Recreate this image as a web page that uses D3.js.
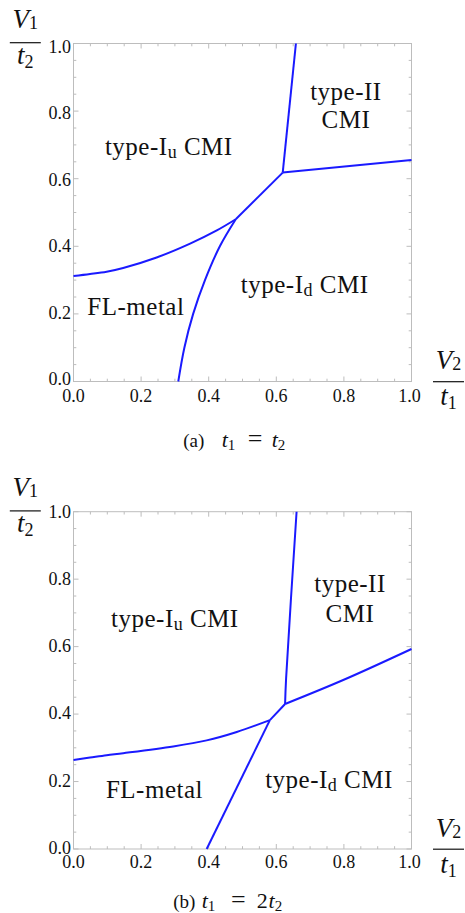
<!DOCTYPE html>
<html><head><meta charset="utf-8">
<script src="https://cdn.jsdelivr.net/npm/d3@7/dist/d3.min.js"></script>
<style>body{margin:0;background:#fff}svg{display:block;font-family:"Liberation Serif","Times New Roman",serif}</style>
</head><body>
<script>
// ---------- data ----------
const majorTicks = [0, 0.2, 0.4, 0.6, 0.8, 1.0];
const tickLabels = ["0.0", "0.2", "0.4", "0.6", "0.8", "1.0"];
const minorTicks = [0.05, 0.1, 0.15, 0.25, 0.3, 0.35, 0.45, 0.5, 0.55, 0.65, 0.7, 0.75, 0.85, 0.9, 0.95];

// panel (a): t1 = t2 — phase boundaries (x = V2/t1, y = V1/t2)
const aFLIu_x = [0, 0.049, 0.098, 0.147, 0.246, 0.345, 0.424, 0.48];
const aFLIu_y = [0.312, 0.318, 0.325, 0.336, 0.367, 0.408, 0.447, 0.48];
const aFLId_x = [0.31, 0.328, 0.354, 0.389, 0.433, 0.48];
const aFLId_y = [0, 0.1, 0.2, 0.3, 0.4, 0.48];
const aIdIu_x = [0.48, 0.619];
const aIdIu_y = [0.48, 0.618];
const aIuII_x = [0.619, 0.658];
const aIuII_y = [0.618, 1.0];
const aIdII_x = [0.619, 1.0];
const aIdII_y = [0.618, 0.655];

// panel (b): t1 = 2 t2
const bFLIu_x = [0, 0.049, 0.098, 0.147, 0.295, 0.394, 0.483, 0.581];
const bFLIu_y = [0.264, 0.271, 0.278, 0.284, 0.304, 0.322, 0.347, 0.382];
const bFLId_x = [0.394, 0.581];
const bFLId_y = [0, 0.382];
const bIdIu_x = [0.581, 0.626];
const bIdIu_y = [0.382, 0.43];
const bIuII_x = [0.626, 0.629, 0.66];
const bIuII_y = [0.43, 0.506, 1.0];
const bIdII_x = [0.626, 0.798, 1.0];
const bIdII_y = [0.43, 0.501, 0.593];

// region names and captions
const regionIu = ["type-I", "u", " CMI"];
const regionId = ["type-I", "d", " CMI"];
const regionII = ["type-II", "CMI"];
const regionFL = "FL-metal";
const captionA = ["(a)", "t", "1", "=", "t", "2"];
const captionB = ["(b)", "t", "1", "=", "2", "t", "2"];

// ---------- drawing ----------
const SERIF = '"Liberation Serif", "Times New Roman", serif';
const W = 465, H = 913;
const svg = d3.select("body").append("svg").attr("width", W).attr("height", H)
  .style("background", "#fff").style("font-family", SERIF);
const LINE = "#1a1aff";
const FRAME = "#bdbdbd";
const INK = "#111";

function zip(xs, ys) { return xs.map((x, i) => [x, ys[i]]); }
function txt(sel) { return sel.append("text").style("font-family", SERIF).attr("fill", INK); }

function drawPanel(cfg) {
  const x = d3.scaleLinear().domain([0, 1]).range([73.5, 411.5]);
  const y = d3.scaleLinear().domain([0, 1]).range([cfg.bottom, cfg.top]);
  const yLab = d3.scaleLinear().domain([0, 1]).range(cfg.labRange);
  const g = svg.append("g");

  // ticks (inward, all four sides)
  const tk = g.append("g").attr("stroke", FRAME).attr("stroke-width", 1);
  const all = majorTicks.map(v => [v, 5]).concat(minorTicks.map(v => [v, 2.8]));
  all.forEach(([v, L]) => {
    tk.append("line").attr("x1", x(v)).attr("x2", x(v)).attr("y1", y(0)).attr("y2", y(0) - L);
    tk.append("line").attr("x1", x(v)).attr("x2", x(v)).attr("y1", y(1)).attr("y2", y(1) + L);
    tk.append("line").attr("y1", y(v)).attr("y2", y(v)).attr("x1", x(0)).attr("x2", x(0) + L);
    tk.append("line").attr("y1", y(v)).attr("y2", y(v)).attr("x1", x(1)).attr("x2", x(1) - L);
  });
  g.append("rect").attr("x", x(0)).attr("y", y(1))
    .attr("width", x(1) - x(0)).attr("height", y(0) - y(1))
    .attr("fill", "none").attr("stroke", FRAME).attr("stroke-width", 1);

  // tick labels
  majorTicks.forEach((v, i) => {
    txt(g).attr("x", x(v) - (v === 1 ? 2 : 0)).attr("y", y(0) + cfg.xLabOff)
      .attr("font-size", 18).attr("text-anchor", "middle").text(tickLabels[i]);
    txt(g).attr("x", x(0) - 2.5).attr("y", yLab(v))
      .attr("font-size", 18).attr("text-anchor", "end").text(tickLabels[i]);
  });

  // boundaries
  const line = d3.line().x(d => x(d[0])).y(d => y(d[1])).curve(d3.curveCatmullRom.alpha(0.5));
  cfg.lines.forEach(pts => {
    g.append("path").attr("d", line(pts)).attr("fill", "none")
      .attr("stroke", LINE).attr("stroke-width", 2).attr("stroke-linejoin", "round");
  });

  // region labels
  function region(px, py) {
    return txt(g).attr("x", x(px)).attr("y", y(py)).attr("font-size", 25).attr("letter-spacing", 0.5);
  }
  function subLabel(words, px, py) {
    const t = region(px, py);
    t.append("tspan").text(words[0]);
    t.append("tspan").attr("font-size", 18).attr("dy", 3).text(words[1]);
    t.append("tspan").attr("dy", -3).text(words[2]);
  }
  subLabel(regionIu, cfg.iu[0], cfg.iu[1]);
  subLabel(regionId, cfg.id[0], cfg.id[1]);
  region(cfg.fl[0], cfg.fl[1]).text(regionFL);
  region(cfg.ii[0], cfg.ii[1]).attr("text-anchor", "middle").text(regionII[0]);
  region(cfg.ii[0], cfg.ii[2]).attr("text-anchor", "middle").text(regionII[1]);

  // axis fraction labels
  function frac(cx, barY, num, nsub, den, dsub, upOff, downOff) {
    const n = txt(g).attr("x", cx).attr("y", barY - upOff).attr("text-anchor", "middle");
    n.append("tspan").style("font-style", "italic").attr("font-size", 27).text(num);
    n.append("tspan").attr("font-size", 18).attr("dy", 1).text(nsub);
    const d = txt(g).attr("x", cx).attr("y", barY + downOff).attr("text-anchor", "middle");
    d.append("tspan").style("font-style", "italic").attr("font-size", 27).text(den);
    d.append("tspan").attr("font-size", 18).attr("dy", 4).text(dsub);
    g.append("line").attr("x1", cx - 15.5).attr("x2", cx + 15.5).attr("y1", barY).attr("y2", barY)
      .attr("stroke", INK).attr("stroke-width", 1.2);
  }
  frac(25.3, y(1) - 0.8, "V", "1", "t", "2", 14.5, 21.5);
  frac(448.5, y(0) + 0.2, "V", "2", "t", "1", 12.5, 23.3);

  // caption
  cfg.caption(g, cfg.capY);
}

function capPiece(g, x, y, s, size, italic, anchor) {
  return txt(g).attr("x", x).attr("y", y).attr("font-size", size)
    .style("font-style", italic ? "italic" : "normal").attr("text-anchor", anchor || "start").text(s);
}
function capSub(t, s) {
  t.append("tspan").attr("font-size", 15).style("font-style", "normal").attr("dy", 3).text(s);
}

drawPanel({
  top: 43.5, bottom: 381.5, xLabOff: 20.2, labRange: [385, 53],
  lines: [zip(aFLIu_x, aFLIu_y), zip(aFLId_x, aFLId_y), zip(aIdIu_x, aIdIu_y), zip(aIuII_x, aIuII_y), zip(aIdII_x, aIdII_y)],
  iu: [0.093, 0.670], id: [0.495, 0.261], fl: [0.041, 0.197], ii: [0.806, 0.833, 0.749],
  capY: 446.5,
  caption: (g, cy) => {
    capPiece(g, 183.3, cy, captionA[0], 19, false);
    capSub(capPiece(g, 221.7, cy, captionA[1], 22, true), captionA[2]);
    capPiece(g, 255, cy, captionA[3], 26, false, "middle");
    capSub(capPiece(g, 271.7, cy, captionA[4], 22, true), captionA[5]);
  }
});

drawPanel({
  top: 511.7, bottom: 849, xLabOff: 19.3, labRange: [853.8, 518],
  lines: [zip(bFLIu_x, bFLIu_y), zip(bFLId_x, bFLId_y), zip(bIdIu_x, bIdIu_y), zip(bIuII_x, bIuII_y), zip(bIdII_x, bIdII_y)],
  iu: [0.111, 0.659], id: [0.567, 0.180], fl: [0.096, 0.150], ii: [0.818, 0.763, 0.672],
  capY: 907.5,
  caption: (g, cy) => {
    capPiece(g, 173.3, cy, captionB[0], 19, false);
    capSub(capPiece(g, 201.7, cy, captionB[1], 22, true), captionB[2]);
    capPiece(g, 238.3, cy, captionB[3], 26, false, "middle");
    capPiece(g, 256.7, cy, captionB[4], 22, false);
    capSub(capPiece(g, 268.5, cy, captionB[5], 22, true), captionB[6]);
  }
});
</script>
</body></html>
